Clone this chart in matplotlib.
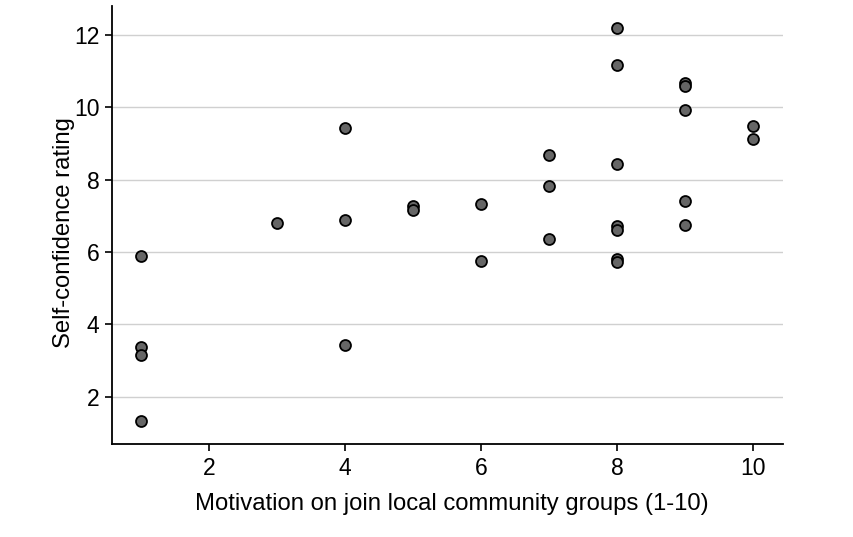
import matplotlib
matplotlib.use("Agg")
import matplotlib.pyplot as plt

plt.rcParams['font.family'] = ['Liberation Sans', 'DejaVu Sans']

motivation = [1, 1, 1, 1, 3, 4, 4, 4, 5, 5, 6, 6, 7, 7, 7,
              8, 8, 8, 8, 8, 8, 8, 9, 9, 9, 9, 9, 10, 10]
confidence = [5.88, 3.36, 3.14, 1.32, 6.80, 9.42, 6.88, 3.42, 7.28, 7.17, 7.32, 5.76,
              8.68, 7.82, 6.35,
              12.2, 11.16, 8.42, 6.72, 6.61, 5.81, 5.72,
              10.68, 10.58, 9.93, 7.40, 6.74, 9.48, 9.13]

fig = plt.figure(figsize=(8.54, 5.37), dpi=100)
ax = fig.add_axes([0.131, 0.173, 0.786, 0.816])
ax.scatter(motivation, confidence, s=62, facecolor='#666666', edgecolor='black',
           linewidth=1.3, zorder=3)
ax.set_xlim(0.57, 10.44)
ax.set_ylim(0.69, 12.8)
ax.set_xticks([2, 4, 6, 8, 10])
ax.set_yticks([2, 4, 6, 8, 10, 12])
ax.yaxis.grid(True, color='#d0d0d0', linewidth=1)
ax.set_axisbelow(True)
for s in ['top', 'right']:
    ax.spines[s].set_visible(False)
for s in ['left', 'bottom']:
    ax.spines[s].set_linewidth(1.3)
ax.tick_params(axis='both', labelsize=16.5, length=5, width=1.2, direction='out', pad=4)
ax.set_xlabel('Motivation on join local community groups (1-10)', fontsize=17.2, labelpad=10)
ax.set_ylabel('Self-confidence rating', fontsize=17.2, labelpad=-1)
ax.yaxis.label.set_y(0.482)
ax.xaxis.label.set_x(0.507)
fig.savefig('out.png', dpi=100)
